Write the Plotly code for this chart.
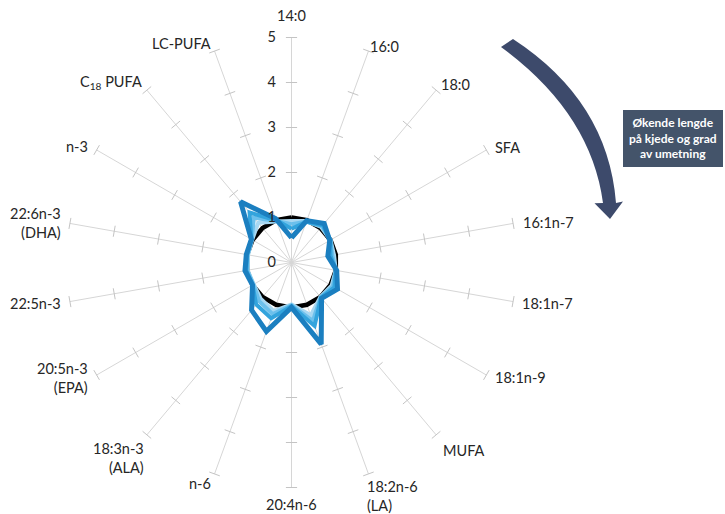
import math
import plotly.graph_objects as go

# ---------------- data ----------------
categories = ["14:0", "16:0", "18:0", "SFA", "16:1n-7", "18:1n-7", "18:1n-9", "MUFA",
              "18:2n-6<br>(LA)", "20:4n-6", "n-6", "18:3n-3<br>(ALA)", "20:5n-3<br>(EPA)",
              "22:5n-3", "22:6n-3<br>(DHA)", "n-3", "C<sub>18</sub> PUFA", "LC-PUFA"]

control        = [1.00, 1.00, 1.00, 1.00, 1.00, 1.00, 1.00, 1.00, 1.00,
                  1.00, 1.00, 1.00, 1.00, 1.00, 1.00, 1.00, 1.00, 1.00]
group_lightest = [0.92, 0.98, 1.03, 1.00, 0.96, 1.00, 1.03, 1.00, 1.25,
                  0.93, 1.15, 1.06, 0.97, 0.99, 0.98, 1.01, 1.15, 0.97]
group_light    = [0.85, 0.97, 1.05, 1.00, 0.92, 1.00, 1.06, 1.01, 1.38,
                  0.95, 1.22, 1.12, 0.98, 1.00, 0.99, 1.02, 1.30, 0.98]
group_medium   = [0.75, 0.96, 1.08, 1.00, 0.88, 1.00, 1.10, 1.02, 1.50,
                  0.97, 1.32, 1.22, 1.00, 1.02, 1.00, 1.03, 1.45, 1.00]
group_dark     = [0.55, 0.99, 1.13, 0.98, 0.82, 1.02, 1.18, 1.04, 1.93,
                  1.00, 1.63, 1.38, 1.00, 1.05, 1.02, 1.03, 1.76, 1.04]

radial_ticks = [0, 1, 2, 3, 4, 5]
box_lines = ["Økende lengde", "på kjede og grad", "av umetning"]

# ---------------- styling ----------------
W, H = 725, 514
CX, CY, R = 291.5, 262.5, 225.0
FONT = "Lato"
FS = 14.5
TXT = "#262626"
GRID = "#d6d6d6"
NAVY_BOX = "#44546A"
NAVY_ARROW = "#3d4a6b"

# label placement relative to each spoke end (dx, dy, xanchor, yanchor, align), by spoke angle
LABEL_POS = {
    0: (0, -13, "center", "bottom", "center"),
    20: (1, -5, "left", "middle", "left"),
    40: (4, -6, "left", "middle", "left"),
    60: (8, -2, "left", "middle", "left"),
    80: (9, -1, "left", "middle", "left"),
    100: (8, 2, "left", "middle", "left"),
    120: (8, 3, "left", "middle", "left"),
    140: (6, 6, "left", "top", "left"),
    160: (-2, 3, "left", "top", "left"),
    180: (0, 7, "center", "top", "center"),
    200: (-3, 0, "right", "top", "right"),
    220: (-2, 4, "right", "top", "right"),
    240: (-8, 3, "right", "middle", "right"),
    260: (-8, 2, "right", "middle", "right"),
    280: (-8, 0, "right", "middle", "right"),
    300: (-8, -3, "right", "middle", "right"),
    320: (-4, -8, "right", "middle", "right"),
    340: (-3, -8, "right", "middle", "right"),
}


def px(x):
    return x / W


def py(y):
    return 1 - y / H


def closed(v):
    return list(v) + [v[0]]


theta_closed = closed(categories)
n = len(categories)

fig = go.Figure()

# spoke tick marks (decoration on each angular grid line)
tick_r, tick_t, tick_a = [], [], []
for i, c in enumerate(categories):
    for rv in radial_ticks[1:]:
        tick_r.append(rv)
        tick_t.append(c)
        tick_a.append(i * 360 / n)
fig.add_trace(go.Scatterpolar(
    r=tick_r, theta=tick_t, mode="markers", hoverinfo="skip",
    marker=dict(symbol="line-ew", size=8, angle=tick_a,
                line=dict(color="#c4c4c4", width=1)),
))

series = [
    (control, "#000000", 4.5),
    (group_lightest, "#a9d8f2", 4),
    (group_light, "#6cc0ec", 4),
    (group_medium, "#33a4dd", 4),
    (group_dark, "#1b7fc0", 5),
]
for vals, col, w in series:
    fig.add_trace(go.Scatterpolar(
        r=closed(vals), theta=theta_closed, mode="lines",
        line=dict(color=col, width=w), hoverinfo="skip",
    ))


# arrow (curved) drawn as a path in paper coordinates
def P(x, y):
    return f"{px(x):.5f},{py(y):.5f}"


arrow_path = (
    f"M {P(513, 39)} Q {P(608, 101)} {P(616, 203)} "
    f"L {P(623, 201.5)} L {P(610, 219)} L {P(594.5, 203.3)} L {P(603, 203)} "
    f"Q {P(591, 113)} {P(501, 47)} Z"
)

shapes = [
    dict(type="path", xref="paper", yref="paper", path=arrow_path,
         fillcolor=NAVY_ARROW, line=dict(width=0)),
    dict(type="rect", xref="paper", yref="paper",
         x0=px(623), x1=px(723), y0=py(167), y1=py(110),
         fillcolor=NAVY_BOX, line=dict(width=0)),
]

annotations = [
    dict(xref="paper", yref="paper", x=px(673), y=py(138.5),
         text="<br>".join(f"<b>{t}</b>" for t in box_lines),
         showarrow=False, xanchor="center", yanchor="middle",
         font=dict(family=FONT, size=12, color="#ffffff"), align="center"),
]

# category labels at the end of each spoke
for i, c in enumerate(categories):
    deg = round(i * 360 / n)
    a = math.radians(deg)
    ex = CX + R * math.sin(a)
    ey = CY - R * math.cos(a)
    dx, dy, xa, ya, al = LABEL_POS[deg]
    annotations.append(dict(
        xref="paper", yref="paper", x=px(ex + dx), y=py(ey + dy),
        text=c, showarrow=False, xanchor=xa, yanchor=ya, align=al,
        borderpad=0, font=dict(family=FONT, size=FS, color=TXT),
    ))

fig.update_layout(
    width=W, height=H,
    margin=dict(l=0, r=0, t=0, b=0),
    paper_bgcolor="white",
    showlegend=False,
    font=dict(family=FONT, size=FS, color=TXT),
    shapes=shapes,
    annotations=annotations,
    polar=dict(
        domain=dict(x=[px(CX - R), px(CX + R)], y=[py(CY + R), py(CY - R)]),
        bgcolor="rgba(0,0,0,0)",
        angularaxis=dict(
            direction="clockwise", rotation=90,
            showline=False, showgrid=True, gridcolor=GRID, gridwidth=1,
            ticks="", showticklabels=False,
        ),
        radialaxis=dict(
            range=[0, 5], tickvals=radial_ticks, angle=90, tickangle=90,
            side="counterclockwise", showline=False, showgrid=False,
            ticks="outside", ticklen=10, tickcolor="rgba(0,0,0,0)",
            tickfont=dict(family=FONT, size=FS, color=TXT),
        ),
    ),
)

fig.write_html("out.html")
